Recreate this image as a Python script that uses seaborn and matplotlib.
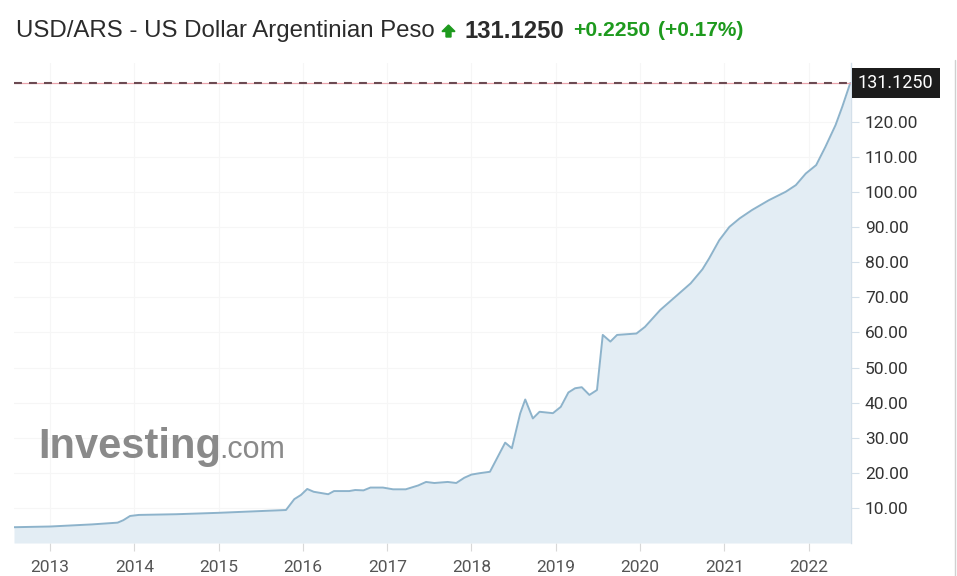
import matplotlib
matplotlib.use("Agg")
import matplotlib.pyplot as plt
import matplotlib.dates as mdates
import matplotlib.patches as mpatches
from matplotlib.lines import Line2D
import pandas as pd
import seaborn as sns

# USD/ARS rate
dates = [
    "2012-07-28", "2013-01-01", "2013-07-01", "2013-10-20", "2013-11-14", "2013-12-13",
    "2014-01-20", "2014-07-01", "2015-01-01", "2015-07-01", "2015-10-20", "2015-11-25",
    "2015-12-24", "2016-01-20", "2016-02-17", "2016-04-20", "2016-05-15", "2016-07-20",
    "2016-08-15", "2016-09-20", "2016-10-20", "2016-12-13", "2017-01-26", "2017-03-22",
    "2017-05-15", "2017-06-18", "2017-07-24", "2017-09-20", "2017-10-27", "2017-12-01",
    "2018-01-01", "2018-02-06", "2018-03-22", "2018-05-27", "2018-06-25", "2018-07-31",
    "2018-08-22", "2018-09-24", "2018-10-23", "2018-12-20", "2019-01-23", "2019-02-25",
    "2019-03-26", "2019-04-24", "2019-05-27", "2019-06-29", "2019-07-24", "2019-08-26",
    "2019-09-24", "2019-12-17", "2020-01-23", "2020-03-29", "2020-06-03", "2020-08-08",
    "2020-09-28", "2020-10-27", "2020-12-10", "2021-01-23", "2021-03-08", "2021-05-01",
    "2021-07-13", "2021-09-24", "2021-11-07", "2021-12-20", "2022-02-03", "2022-03-15",
    "2022-04-28", "2022-05-27", "2022-07-01",
]
rates = [
    4.5, 4.7, 5.3, 5.8, 6.5, 7.7,
    8.0, 8.2, 8.6, 9.1, 9.4, 12.5,
    13.7, 15.4, 14.6, 13.9, 14.8, 14.8,
    15.1, 15.0, 15.8, 15.8, 15.3, 15.3,
    16.4, 17.4, 17.1, 17.4, 17.1, 18.6,
    19.5, 19.9, 20.3, 28.6, 27.0, 36.9,
    40.9, 35.5, 37.4, 37.0, 38.8, 42.9,
    44.1, 44.4, 42.2, 43.6, 59.3, 57.4,
    59.3, 59.7, 61.6, 66.4, 70.2, 74.0,
    78.0, 81.1, 86.3, 90.1, 92.5, 94.9,
    97.7, 100.1, 102.0, 105.3, 107.7, 112.9,
    119.1, 124.3, 131.125,
]
last_price = 131.125
y_ticks = [10, 20, 30, 40, 50, 60, 70, 80, 90, 100, 110, 120]
year_ticks = list(range(2013, 2023))

df = pd.DataFrame({"date": pd.to_datetime(dates), "rate": rates})

sns.set_theme(style="white")
plt.rcParams["font.family"] = ["Roboto", "DejaVu Sans"]
arial = ["Liberation Sans", "DejaVu Sans"]

fig = plt.figure(figsize=(9.57, 5.76), dpi=100)
ax = fig.add_axes([14 / 957, 33 / 576, (851 - 14) / 957, 480 / 576])

line_col = "#8db3cb"
fill_col = "#e3edf4"
ax.fill_between(df["date"], df["rate"], 0, color=fill_col, lw=0)
sns.lineplot(data=df, x="date", y="rate", ax=ax, color=line_col, lw=1.4)

ax.set_xlim(pd.Timestamp("2012-07-28"), pd.Timestamp("2022-07-04"))
ax.set_ylim(0, 136.8)

# last price line
ax.axhline(last_price, color="#eaa3ab", lw=0.9, zorder=3)
ax.axhline(last_price, color="#6b4a52", lw=1.5, ls=(0, (3.8, 3.4)), zorder=4)

ax.yaxis.tick_right()
ax.set_yticks(y_ticks)
ax.set_yticklabels([f"{v:.2f}" for v in y_ticks])
ax.set_xticks([pd.Timestamp(f"{y}-01-01") for y in year_ticks])
ax.xaxis.set_major_formatter(mdates.DateFormatter("%Y"))
ax.tick_params(axis="y", which="major", right=True, length=6, width=0.8,
               color="#d4e0ea", labelsize=12.5, labelcolor="#333333", pad=4)
ax.tick_params(axis="x", which="major", bottom=True, length=6, width=0.8,
               color="#d8d8d8", labelsize=12.5, labelcolor="#555555", pad=6)
ax.grid(True, color="#f6f6f6", lw=0.8)
ax.set_xlabel("")
ax.set_ylabel("")
for s in ["top", "left", "bottom"]:
    ax.spines[s].set_visible(False)
ax.spines["right"].set_color("#d4e0ea")
ax.spines["right"].set_linewidth(1.0)

# price tag
ax.annotate("131.1250", xy=(1.0, last_price), xycoords=("axes fraction", "data"),
            xytext=(5, 0), textcoords="offset points", ha="left", va="center",
            fontsize=13, color="white",
            bbox=dict(boxstyle="square,pad=0.35", fc="#1c1c1c", ec="none"),
            annotation_clip=False, zorder=6)

# header
fig.text(16 / 957, 1 - 31 / 576, "USD/ARS - US Dollar Argentinian Peso",
         fontsize=17.3, color="#2b2b2b", family=arial, va="center", ha="left")
fig.add_artist(mpatches.FancyArrow(4.485, 5.39, 0, 0.055, width=0.05,
                                   head_width=0.13, head_length=0.065,
                                   length_includes_head=False, color="#1e9a1e",
                                   transform=fig.dpi_scale_trans))
fig.text(465 / 957, 1 - 31 / 576, "131.1250", fontsize=17.2, weight="bold",
         color="#2b2b2b", family=arial, va="center", ha="left")
fig.text(573 / 957, 1 - 31 / 576, "+0.2250", fontsize=15.2, weight="bold",
         color="#1e9a1e", family=arial, va="center", ha="left")
fig.text(658 / 957, 1 - 31 / 576, "(+0.17%)", fontsize=15, weight="bold",
         color="#1e9a1e", family=arial, va="center", ha="left")

# watermark
fig.text(38 / 957, 1 - 458 / 576, "Investing", fontsize=30, weight="bold",
         color="#8a8a8a", family=arial, va="baseline", ha="left")
fig.text(219 / 957, 1 - 458 / 576, ".com", fontsize=22, color="#8a8a8a",
         family=arial, va="baseline", ha="left")

fig.add_artist(Line2D([955 / 957, 955 / 957], [1 - 60 / 576, 0], color="#d0d0d0", lw=1))

fig.savefig("out.png", dpi=100)
